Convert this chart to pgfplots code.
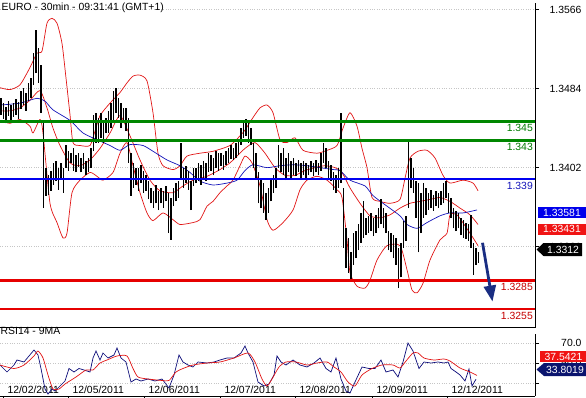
\documentclass[border=0pt]{standalone}
\usepackage{fontspec}
\setmainfont{Liberation Sans}
\usepackage{pgfplots}
\pgfplotsset{compat=1.18}
\usepackage{pgfplotstable}
\usetikzlibrary{arrows.meta}

\definecolor{bbred}{RGB}{225,20,20}
\definecolor{mablue}{RGB}{20,20,185}
\definecolor{lvgreen}{RGB}{0,135,0}
\definecolor{lvblue}{RGB}{0,0,240}
\definecolor{lvred}{RGB}{230,0,0}
\definecolor{rsiblue}{RGB}{10,10,120}
\definecolor{arrowblue}{RGB}{25,45,130}
\definecolor{boxblue}{RGB}{0,0,235}
\definecolor{boxred}{RGB}{240,20,20}
\definecolor{boxnavy}{RGB}{10,20,110}
\newcommand{\lblfont}{\fontsize{10.4}{12}\selectfont}

% price bars: x, low, high
\pgfplotstableread{
x lo hi
1 1.3457 1.3474
3.5 1.3453 1.3469
6 1.3448 1.3465
8.5 1.3456 1.3471
11 1.3451 1.3467
13.5 1.3455 1.3469
16 1.3457 1.3473
18.5 1.3452 1.3470
21 1.3463 1.3482
23.5 1.3467 1.3485
26 1.3461 1.3480
28.5 1.3471 1.3490
31 1.3474 1.3495
33.5 1.3488 1.3521
36 1.3500 1.3545
38.5 1.3490 1.3526
41 1.3459 1.3509
43.5 1.3360 1.3448
46 1.3373 1.3402
48.5 1.3374 1.3394
51 1.3378 1.3399
53.5 1.3384 1.3407
56 1.3388 1.3409
58.5 1.3379 1.3402
61 1.3391 1.3407
63.5 1.3376 1.3402
66 1.3402 1.3425
68.5 1.3399 1.3419
71 1.3407 1.3417
73.5 1.3399 1.3422
76 1.3397 1.3415
78.5 1.3403 1.3417
81 1.3397 1.3412
83.5 1.3401 1.3417
86 1.3394 1.3409
88.5 1.3397 1.3412
91 1.3402 1.3422
93.5 1.3419 1.3457
96 1.3428 1.3459
98.5 1.3428 1.3454
101 1.3433 1.3459
103.5 1.3428 1.3451
106 1.3438 1.3454
108.5 1.3438 1.3461
111 1.3443 1.3469
113.5 1.3448 1.3482
116 1.3459 1.3485
118.5 1.3454 1.3474
121 1.3443 1.3469
123.5 1.3448 1.3464
126 1.3440 1.3464
128.5 1.3407 1.3454
131 1.3373 1.3417
133.5 1.3381 1.3407
136 1.3384 1.3402
138.5 1.3378 1.3402
141 1.3386 1.3405
143.5 1.3376 1.3399
146 1.3378 1.3394
148.5 1.3369 1.3388
151 1.3365 1.3381
153.5 1.3360 1.3378
156 1.3365 1.3384
158.5 1.3358 1.3378
161 1.3365 1.3381
163.5 1.3360 1.3378
166 1.3367 1.3383
168.5 1.3334 1.3376
171 1.3327 1.3371
173.5 1.3362 1.3381
176 1.3367 1.3386
178.5 1.3371 1.3388
181 1.3391 1.3428
183.5 1.3381 1.3402
186 1.3386 1.3404
188.5 1.3379 1.3399
191 1.3358 1.3388
193.5 1.3383 1.3402
196 1.3386 1.3402
198.5 1.3388 1.3407
201 1.3384 1.3405
203.5 1.3390 1.3409
206 1.3388 1.3407
208.5 1.3397 1.3417
211 1.3399 1.3415
213.5 1.3394 1.3412
216 1.3402 1.3419
218.5 1.3399 1.3417
221 1.3404 1.3417
223.5 1.3400 1.3415
226 1.3405 1.3419
228.5 1.3407 1.3422
231 1.3411 1.3425
233.5 1.3410 1.3422
236 1.3412 1.3428
238.5 1.3415 1.3430
241 1.3426 1.3443
243.5 1.3433 1.3448
246 1.3435 1.3452
248.5 1.3428 1.3448
251 1.3425 1.3443
253.5 1.3402 1.3428
256 1.3391 1.3417
258.5 1.3365 1.3397
261 1.3360 1.3391
263.5 1.3355 1.3386
266 1.3348 1.3376
268.5 1.3355 1.3381
271 1.3367 1.3391
273.5 1.3376 1.3394
276 1.3381 1.3402
278.5 1.3402 1.3425
281 1.3397 1.3417
283.5 1.3394 1.3422
286 1.3389 1.3412
288.5 1.3397 1.3417
291 1.3391 1.3409
293.5 1.3394 1.3412
296 1.3393 1.3407
298.5 1.3397 1.3410
301 1.3391 1.3407
303.5 1.3394 1.3409
306 1.3391 1.3407
308.5 1.3394 1.3405
311 1.3397 1.3409
313.5 1.3393 1.3407
316 1.3397 1.3410
318.5 1.3394 1.3407
321 1.3399 1.3417
323.5 1.3407 1.3428
326 1.3402 1.3422
328.5 1.3389 1.3409
331 1.3388 1.3405
333.5 1.3379 1.3397
336 1.3376 1.3394
338.5 1.3381 1.3402
341 1.3386 1.3459
343.5 1.3319 1.3381
346 1.3298 1.3339
348.5 1.3293 1.3329
351 1.3284 1.3314
353.5 1.3301 1.3334
356 1.3308 1.3336
358.5 1.3316 1.3343
361 1.3324 1.3355
363.5 1.3329 1.3367
366 1.3332 1.3350
368.5 1.3334 1.3352
371 1.3336 1.3355
373.5 1.3331 1.3350
376 1.3334 1.3353
378.5 1.3339 1.3360
381 1.3343 1.3369
383.5 1.3339 1.3360
386 1.3334 1.3355
388.5 1.3316 1.3336
391 1.3314 1.3334
393.5 1.3308 1.3332
396 1.3301 1.3329
398.5 1.3277 1.3319
401 1.3288 1.3324
403.5 1.3319 1.3347
406 1.3326 1.3352
408.5 1.3360 1.3431
411 1.3381 1.3412
413.5 1.3376 1.3402
416 1.3350 1.3388
418.5 1.3314 1.3386
421 1.3334 1.3376
423.5 1.3350 1.3386
426 1.3353 1.3381
428.5 1.3358 1.3376
431 1.3360 1.3379
433.5 1.3357 1.3374
436 1.3362 1.3378
438.5 1.3360 1.3376
441 1.3363 1.3378
443.5 1.3365 1.3386
446 1.3370 1.3388
448.5 1.3355 1.3376
451 1.3350 1.3371
453.5 1.3339 1.3360
456 1.3336 1.3357
458.5 1.3339 1.3355
461 1.3332 1.3350
463.5 1.3329 1.3348
466 1.3328 1.3345
468.5 1.3326 1.3343
471 1.3319 1.3353
473.5 1.3291 1.3324
476 1.3301 1.3319
478.5 1.3303 1.3314
}\barsdata

\pgfplotstableread{
x y
0 1.3485
10 1.3483
20 1.3488
30 1.3506
37 1.3521
42 1.3523
47 1.3552
52 1.3557
57 1.3552
62 1.3531
66 1.3495
70 1.3457
73 1.3428
80 1.3425
90 1.3425
95 1.3440
100 1.3456
110 1.3469
120 1.3480
127 1.3490
133 1.3497
140 1.3498
147 1.3492
153 1.3459
158 1.3417
163 1.3404
173 1.3400
180 1.3404
187 1.3414
200 1.3417
213 1.3419
230 1.3425
240 1.3435
245 1.3441
253 1.3454
260 1.3464
267 1.3467
273 1.3459
280 1.3431
287 1.3428
295 1.3433
303 1.3420
317 1.3417
327 1.3420
337 1.3425
343 1.3443
350 1.3459
357 1.3445
362 1.3422
367 1.3402
372 1.3371
380 1.3367
390 1.3365
400 1.3369
405 1.3391
410 1.3412
418 1.3419
427 1.3420
435 1.3412
443 1.3394
450 1.3386
463 1.3389
473 1.3386
478 1.3378
}\bbupper

\pgfplotstableread{
x y
0 1.3461
10 1.3461
20 1.3464
30 1.3472
40 1.3482
47 1.3464
53 1.3443
60 1.3425
70 1.3407
80 1.3404
90 1.3410
100 1.3422
110 1.3438
120 1.3456
130 1.3435
140 1.3410
150 1.3389
160 1.3378
173 1.3376
183 1.3383
193 1.3389
207 1.3393
220 1.3400
230 1.3407
240 1.3417
245 1.3422
255 1.3428
265 1.3417
275 1.3402
285 1.3394
295 1.3394
305 1.3399
315 1.3402
325 1.3404
335 1.3402
342 1.3397
350 1.3381
360 1.3365
370 1.3352
380 1.3350
390 1.3353
400 1.3360
410 1.3365
420 1.3367
430 1.3369
440 1.3371
450 1.3367
460 1.3360
470 1.3353
478 1.3343
}\bbmid

\pgfplotstableread{
x y
0 1.3451
10 1.3448
20 1.3452
30 1.3445
33 1.3438
40 1.3452
43 1.3438
50 1.3365
57 1.3345
63 1.3329
67 1.3334
72 1.3376
80 1.3389
90 1.3397
97 1.3393
103 1.3389
113 1.3397
120 1.3417
127 1.3428
133 1.3404
140 1.3376
147 1.3355
153 1.3347
163 1.3355
173 1.3348
180 1.3343
193 1.3345
200 1.3348
207 1.3362
213 1.3367
220 1.3376
227 1.3383
233 1.3389
240 1.3404
245 1.3414
252 1.3407
260 1.3383
267 1.3348
273 1.3337
283 1.3345
293 1.3358
300 1.3379
307 1.3389
317 1.3393
327 1.3389
337 1.3379
342 1.3371
347 1.3327
350 1.3293
357 1.3279
365 1.3277
370 1.3285
377 1.3306
387 1.3321
400 1.3321
407 1.3296
412 1.3275
417 1.3272
423 1.3282
430 1.3306
440 1.3327
447 1.3334
450 1.3353
457 1.3353
470 1.3334
478 1.3321
}\bblow

\pgfplotstableread{
x y
0 1.3467
20 1.3469
37 1.3474
45 1.3471
53 1.3462
70 1.3451
83 1.3438
97 1.3431
110 1.3425
120 1.3420
130 1.3426
143 1.3425
153 1.3419
167 1.3410
180 1.3404
190 1.3397
200 1.3388
213 1.3384
227 1.3386
237 1.3389
245 1.3399
253 1.3405
267 1.3402
280 1.3404
293 1.3405
307 1.3404
320 1.3402
333 1.3400
340 1.3399
350 1.3389
365 1.3383
373 1.3373
387 1.3362
400 1.3352
407 1.3343
417 1.3339
427 1.3345
440 1.3352
450 1.3355
463 1.3355
477 1.33581
}\mavgdata

\pgfplotstableread{
x y
0 48
7 41
14 48
17 53
24 51
29 57
34 63
38 58
41 44.5
45 24
48 19
52 24
55 22
60 27
65 32
69 44.5
74 41
79 44.5
84 43
90 41
93 55
96 62
100 53
103 60
108 55
114 58
117 65
121 55
126 51
131 31
136 34
141 32
148 34
155 32
162 34
169 25
174 38
179 58
183 51
188 48
193 46
198 51
207 50
214 51
220 53
227 55
234 55
241 60
245 67
248 60
253 51
258 31
264 27
269 29
274 38
277 57
281 51
286 48
293 53
300 48
307 46
314 50
320 55
326 44.5
331 41
336 55
341 34
346 22
350 20
355 31
362 46
369 44.5
375 44.5
381 53
386 41
393 43
398 36
403 51
408 70
413 62
419 44.5
424 51
431 50
438 51
444 50
448 51
451 44.5
456 41
460 38
465 32
469 44
472 27
476 33.8
}\rsidata

\pgfplotstableread{
x y
0 48
14 44.5
24 48
34 57
38 62
43 55
48 38
53 24
59 24
65 29
76 36
86 43
93 43
100 50
107 53
117 57
127 57
133 44.5
138 36
148 34
162 32.5
169 32.5
176 41
183 44.5
193 48
207 50
220 51
234 55
248 60
255 51
262 34
267 27
272 34
279 46
286 51
296 51
307 48
317 50
327 51
334 46
341 41
348 31
355 27
362 38
372 44.5
382 48
393 48
400 45
406 52
413 60
418 60
424 55
434 53
444 54
450 52
460 45
470 41
477 37.54
}\rsimadata

\begin{document}
\begin{tikzpicture}[x=1pt,y=1pt]
\useasboundingbox (0,0) rectangle (586,397);

% ---------------- main price panel
\begin{axis}[
  at={(0,72)}, anchor=south west, scale only axis,
  width=535pt, height=325pt,
  xmin=0, xmax=535, ymin=1.32359, ymax=1.35733,
  axis x line*=bottom, axis y line*=right,
  axis line style={-, black, line width=0.8pt},
  xtick=\empty,
  ytick={1.3320,1.3402,1.3484,1.3566},
  yticklabels={1.3320,1.3402,1.3484,1.3566},
  ymajorgrids, grid style={dotted, line width=0.8pt, gray!45},
  tick align=outside, major tick length=4pt,
  tick style={black, line width=0.6pt},
  yticklabel style={font=\lblfont, anchor=east, xshift=46pt},
]
\addplot[bbred, line width=0.7pt, smooth, tension=0.4] table[x=x,y=y] {\bbupper};
\addplot[bbred, line width=0.7pt, smooth, tension=0.4] table[x=x,y=y] {\bbmid};
\addplot[bbred, line width=0.7pt, smooth, tension=0.4] table[x=x,y=y] {\bblow};
\addplot[mablue, line width=0.7pt, smooth, tension=0.4] table[x=x,y=y] {\mavgdata};
\addplot[draw=none, mark=none, forget plot,
  error bars/.cd, y dir=plus, y explicit, error mark=none,
  error bar style={draw=black, line width=1.25pt}]
  table[x=x, y=lo, y error expr=\thisrow{hi}-\thisrow{lo}] {\barsdata};
\addplot[lvgreen, line width=2.6pt] coordinates {(0,1.345) (535,1.345)};
\addplot[lvgreen, line width=2.6pt] coordinates {(0,1.343) (535,1.343)};
\addplot[lvblue, line width=2.4pt] coordinates {(0,1.339) (535,1.339)};
\addplot[lvred, line width=2.4pt] coordinates {(0,1.3285) (535,1.3285)};
\addplot[lvred, line width=2.0pt] coordinates {(0,1.3255) (535,1.3255)};
\node[anchor=north east, inner sep=0, font=\lblfont, text=lvgreen!90!black, yshift=-2.5pt] at (axis cs:533,1.345) {1.345};
\node[anchor=north east, inner sep=0, font=\lblfont, text=lvgreen!90!black, yshift=-2.5pt] at (axis cs:533,1.343) {1.343};
\node[anchor=north east, inner sep=0, font=\lblfont, text=mablue, yshift=-2.5pt] at (axis cs:533,1.339) {1.339};
\node[anchor=north east, inner sep=0, font=\lblfont, text=lvred!85!black, yshift=-2.5pt] at (axis cs:533,1.3285) {1.3285};
\node[anchor=north east, inner sep=0, font=\lblfont, text=lvred!85!black, yshift=-2.5pt] at (axis cs:533,1.3255) {1.3255};
\draw[arrowblue, line width=2.8pt, -{Triangle[length=16pt, width=12pt]}] (axis cs:482.5,1.3324) -- (axis cs:492.5,1.3263);
\end{axis}

% ---------------- RSI panel
\begin{axis}[
  at={(0,10)}, anchor=south west, scale only axis,
  width=535pt, height=62pt,
  xmin=0, xmax=535, ymin=17, ymax=79,
  axis x line*=bottom, axis y line*=right,
  axis line style={-, black, line width=0.8pt},
  ytick={30,50,70}, yticklabels={,50.0,70.0},
  xtick={3,68,144,220,295,372,447},
  xticklabels={12/02/2011,12/05/2011,12/06/2011,12/07/2011,12/08/2011,12/09/2011,12/12/2011},
  ymajorgrids, grid style={dotted, line width=0.8pt, gray!45},
  tick align=outside, major tick length=4pt,
  tick style={black, line width=0.6pt},
  xtick style={/pgfplots/major tick length=7pt},
  yticklabel style={font=\lblfont, anchor=east, xshift=46pt},
  xticklabel style={font=\lblfont, anchor=west, xshift=1pt, yshift=10.5pt},
]
\addplot[rsiblue, line width=0.7pt] table[x=x,y=y] {\rsidata};
\addplot[bbred, line width=0.7pt, smooth, tension=0.4] table[x=x,y=y] {\rsimadata};
\end{axis}

% ---------------- titles and value boxes
\node[anchor=west, inner sep=0, font=\lblfont] at (1.5,389) {EURO - 30min - 09:31:41 (GMT+1)};
\node[anchor=west, inner sep=0, font=\lblfont] at (0.5,66) {RSI14 - 9MA};

\fill[boxblue] (538,179) rectangle (586,190);
\node[text=white, font=\lblfont, inner sep=0] at (562,184.5) {1.33581};
\fill[boxred] (538,162.5) rectangle (586,173.5);
\node[text=white, font=\lblfont, inner sep=0] at (562,168) {1.33431};
\fill[black] (536.5,147.5) -- (543.5,154) -- (582,154) -- (582,141) -- (543.5,141) -- cycle;
\node[text=white, font=\lblfont, inner sep=0] at (563,147.5) {1.3312};

\fill[boxred] (540,35) rectangle (586,46);
\node[text=white, font=\lblfont, inner sep=0] at (563.5,40.5) {37.5421};
\fill[boxnavy] (536.5,27.5) -- (544,34) -- (586,34) -- (586,21) -- (544,21) -- cycle;
\node[text=white, font=\lblfont, inner sep=0] at (565,27.5) {33.8019};
\end{tikzpicture}
\end{document}
